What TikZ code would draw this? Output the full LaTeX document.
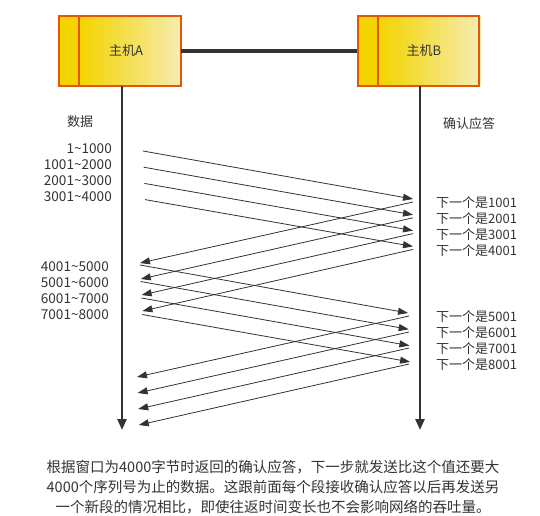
\documentclass[tikz,border=0pt]{standalone}
\usepackage{fontspec}
\setmainfont{Noto Sans CJK SC}
\usetikzlibrary{arrows.meta}
\definecolor{ink}{HTML}{333333}
\definecolor{boxedge}{HTML}{E2570B}
\definecolor{boxdeep}{HTML}{F4D400}
\definecolor{boxpale}{HTML}{F5EDB4}
\tikzset{
  host/.style={minimum width=122pt, minimum height=70pt, inner sep=0pt},
  hostedge/.style={draw=boxedge, line width=1.5pt},
  hostname/.style={font=\fontsize{13}{15}\selectfont, text=ink},
  lbl/.style={font=\fontsize{13}{15}\selectfont, text=ink, inner sep=0pt},
  seglbl/.style={font=\fontsize{13.6}{15}\selectfont, text=ink, inner sep=0pt},
  msg/.style={draw=ink, line width=0.8pt, -{Triangle[length=10pt,width=7pt]}},
  life/.style={draw=ink, line width=2.5pt, -{Triangle[length=11pt,width=9pt]}},
  link/.style={draw=ink, line width=3.5pt}
}
\begin{document}
\begin{tikzpicture}[x=1pt,y=-1pt]
\useasboundingbox (0,0) rectangle (540,515);
\fill[white] (0,0) rectangle (540,515);

% host boxes: solid strip on the left, body fading from yellow to pale
\foreach \xa/\xb in {59/181,358/479} {
  \fill[boxdeep] (\xa,16) rectangle (\xa+20,86);
  \foreach \k in {0,...,24} {
    \pgfmathtruncatemacro\pct{100-4*\k}
    \fill[fill=boxdeep!\pct!boxpale] (\xa+20+\k*4.1,16) rectangle (\xa+20+\k*4.1+4.6,86);
  }
  \draw[hostedge] (\xa,16) rectangle (\xb,86);
  \draw[hostedge] (\xa+20,16) -- (\xa+20,86);
}

\node[host] (hostA) at (120,51) {};
\node[host] (hostB) at (418.5,51) {};
\node[hostname] (nameA) at (126,51) {主机A};
\node[hostname] (nameB) at (424,51) {主机B};

% link between hosts
\draw[link] (hostA.east) -- (hostB.west);

% lifelines
\coordinate (aTop) at (122,86);
\coordinate (aBot) at (122,430);
\coordinate (bTop) at (420,86);
\coordinate (bBot) at (420,430);
\draw[life] (aTop) -- (aBot);
\draw[life] (bTop) -- (bBot);

% column headings
\node[lbl] (dataHead) at (80,122) {数据};
\node[lbl] (ackHead) at (469,124) {确认应答};

% segment labels
\foreach \t [count=\i from 0] in {1\textasciitilde1000,1001\textasciitilde2000,2001\textasciitilde3000,3001\textasciitilde4000}
  \node[seglbl, anchor=east] (seg\i) at (112,149+16*\i) {\t};
\foreach \t [count=\i from 0] in {4001\textasciitilde5000,5001\textasciitilde6000,6001\textasciitilde7000,7001\textasciitilde8000}
  \node[seglbl, anchor=east] (segb\i) at (109,267+16*\i) {\t};

% acknowledgement labels
\foreach \n [count=\i from 0] in {1001,2001,3001,4001}
  \node[lbl, anchor=west] (ack\i) at (436,203+16*\i) {下一个是\n};
\foreach \n [count=\i from 0] in {5001,6001,7001,8001}
  \node[lbl, anchor=west] (ackb\i) at (436,317+16*\i) {下一个是\n};

% first window: data out, acks back
\foreach \i in {0,...,3} {
  \coordinate (d1s\i) at (143+0.7*\i,151+16.2*\i);
  \coordinate (d1e\i) at (413,199+15.8*\i);
  \coordinate (a1s\i) at (413,202+15.8*\i);
  \coordinate (a1e\i) at (140+0.8*\i,263+16*\i);
  \draw[msg] (d1s\i) -- (d1e\i);
  \draw[msg] (a1s\i) -- (a1e\i);
}
% second window
\foreach \i in {0,...,3} {
  \coordinate (d2s\i) at (140+0.7*\i,265+16.5*\i);
  \coordinate (d2e\i) at (408+0.7*\i,313+16.3*\i);
  \coordinate (a2s\i) at (409,316+16*\i);
  \coordinate (a2e\i) at (137+0.6*\i,377+16*\i);
  \draw[msg] (d2s\i) -- (d2e\i);
  \draw[msg] (a2s\i) -- (a2e\i);
}

% caption
\node[font=\fontsize{14.5}{20}\selectfont, text=ink, align=center, inner sep=0pt] (caption) at (273,487)
  {根据窗口为4000字节时返回的确认应答，下一步就发送比这个值还要大\\
   4000个序列号为止的数据。这跟前面每个段接收确认应答以后再发送另\\
   一个新段的情况相比，即使往返时间变长也不会影响网络的吞吐量。};
\end{tikzpicture}
\end{document}
